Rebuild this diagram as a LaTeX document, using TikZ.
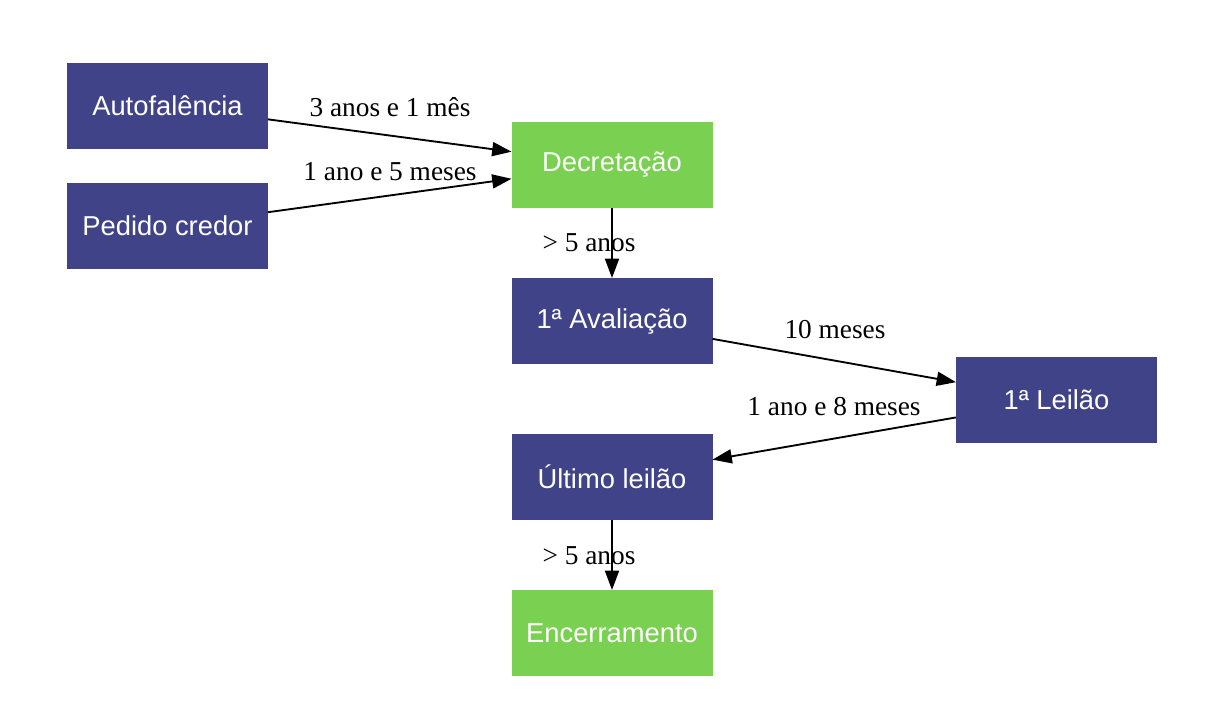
\documentclass[tikz,border=0pt]{standalone}
\usepackage{fontspec}
\setmainfont{Liberation Serif}
\newfontfamily\boxfont{Liberation Sans}
\usetikzlibrary{arrows.meta}
\definecolor{boxblue}{RGB}{64,67,135}
\definecolor{boxgreen}{RGB}{122,208,80}
\tikzset{
  stepbox/.style={rectangle, fill=boxblue, text=white, minimum width=150.75pt, minimum height=64.5pt, inner sep=0pt, outer sep=0pt, font=\boxfont\fontsize{20.5}{24}\selectfont},
  greenbox/.style={stepbox, fill=boxgreen},
  lbl/.style={font=\fontsize{20.5}{24}\selectfont, text=black, inner sep=0pt},
  conn/.style={line width=1.4pt, -{Triangle[length=14.5pt,width=10.5pt]}},
}
\begin{document}
\begin{tikzpicture}[x=0.75pt,y=-0.75pt]
\useasboundingbox (0,0) rectangle (1220,719);
\node[stepbox] (auto) at (167.5,106) {Autofalência};
\node[stepbox] (ped) at (167.5,226) {Pedido credor};
\node[greenbox] (dec) at (612,165) {Decretação};
\node[stepbox] (ava) at (612,321) {1ª Avaliação};
\node[stepbox] (lei) at (1056.5,400) {1ª Leilão};
\node[stepbox] (ult) at (612,477) {Último leilão};
\node[greenbox] (enc) at (612,633) {Encerramento};
\draw[conn] (auto) -- (dec);
\draw[conn] (ped) -- (dec);
\draw[conn] (dec) -- (ava);
\draw[conn] (ava) -- (lei);
\draw[conn] (lei) -- (ult);
\draw[conn] (ult) -- (enc);
\node[lbl] (l1) at (390,107) {3 anos e 1 mês};
\node[lbl] (l2) at (390,172) {1 ano e 5 meses};
\node[lbl] (l3) at (589,243) {> 5 anos};
\node[lbl] (l4) at (835,330) {10 meses};
\node[lbl] (l5) at (834,407) {1 ano e 8 meses};
\node[lbl] (l6) at (589,556) {> 5 anos};
\end{tikzpicture}
\end{document}
